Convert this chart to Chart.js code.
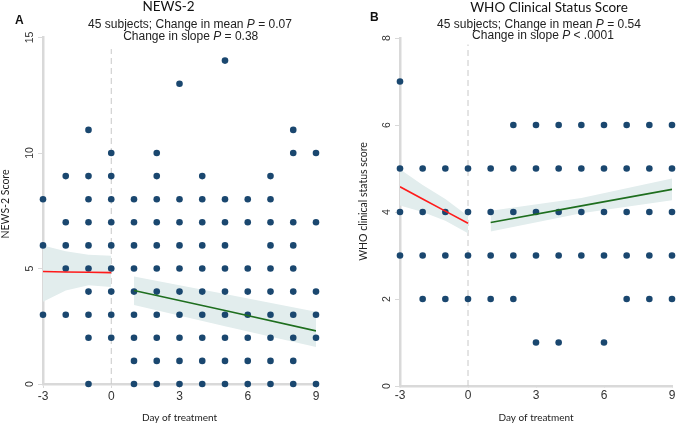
<!DOCTYPE html>
<html>
<head>
<meta charset="utf-8">
<script src="https://cdn.jsdelivr.net/npm/chart.js@4.4.1/dist/chart.umd.min.js"></script>
<style>
  html, body { margin: 0; padding: 0; background: #fff; }
  #wrap { position: relative; width: 676px; height: 424px; }
  .panel { position: absolute; top: 0; width: 338px; height: 424px; }
</style>
</head>
<body>
<div id="wrap">
  <div class="panel" style="left:0"><canvas id="chart-news" width="338" height="424"></canvas></div>
  <div class="panel" style="left:338px"><canvas id="chart-who" width="338" height="424"></canvas></div>
</div>
<script>
// shared axis ticks
const dayTicks = [-3, 0, 3, 6, 9];
const newsTicks = [0, 5, 10, 15];
const whoTicks = [0, 2, 4, 6, 8];

// Panel A - NEWS-2: observed (day, score) pairs, read row by row from the top
const newsDay = [
  5,
  3,
  -1, 8,
  0, 2, 8, 9,
  -2, -1, 0, 2, 4, 7,
  -3, -1, 0, 1, 2, 3, 4, 5, 6, 7,
  -2, -1, 0, 1, 2, 3, 4, 5, 6, 7, 8, 9,
  -3, -2, -1, 0, 1, 2, 3, 4, 5, 7, 8,
  -2, -1, 0, 1, 2, 3, 4, 5, 6, 7, 8,
  -1, 0, 1, 2, 3, 4, 5, 6, 7, 8, 9,
  -3, -2, -1, 0, 1, 2, 3, 4, 5, 6, 7, 8, 9,
  -1, 0, 1, 2, 3, 4, 5, 6, 7, 8, 9,
  1, 2, 3, 4, 5, 6, 7, 8,
  -1, 1, 2, 3, 4, 5, 6, 7, 8, 9
];
const newsScore = [
  14,
  13,
  11, 11,
  10, 10, 10, 10,
  9, 9, 9, 9, 9, 9,
  8, 8, 8, 8, 8, 8, 8, 8, 8, 8,
  7, 7, 7, 7, 7, 7, 7, 7, 7, 7, 7, 7,
  6, 6, 6, 6, 6, 6, 6, 6, 6, 6, 6,
  5, 5, 5, 5, 5, 5, 5, 5, 5, 5, 5,
  4, 4, 4, 4, 4, 4, 4, 4, 4, 4, 4,
  3, 3, 3, 3, 3, 3, 3, 3, 3, 3, 3, 3, 3,
  2, 2, 2, 2, 2, 2, 2, 2, 2, 2, 2,
  1, 1, 1, 1, 1, 1, 1, 1,
  0, 0, 0, 0, 0, 0, 0, 0, 0, 0
];
// fitted lines and 95% bands (pre = before treatment, post = on treatment)
const newsPreX = [-3, -2, -1, 0];
const newsPreFit = [4.87, 4.85, 4.84, 4.82];
const newsPreHi = [6.0, 5.75, 5.6, 5.55];
const newsPreLo = [3.56, 4.05, 4.28, 4.2];
const newsPostX = [1, 5, 9];
const newsPostFit = [4.05, 3.18, 2.3];
const newsPostHi = [4.65, 3.9, 3.13];
const newsPostLo = [3.42, 2.5, 1.6];

// Panel B - WHO clinical status score
const whoDay = [
  -3,
  2, 3, 4, 5, 6, 7, 8, 9,
  -3, -2, -1, 0, 1, 2, 3, 4, 5, 6, 7, 8, 9,
  -3, -2, -1, 0, 1, 2, 3, 4, 5, 6, 7, 8, 9,
  -3, -2, -1, 0, 1, 2, 3, 4, 5, 6, 7, 8, 9,
  -2, -1, 0, 1, 2, 7, 8, 9,
  3, 4, 6
];
const whoScore = [
  7,
  6, 6, 6, 6, 6, 6, 6, 6,
  5, 5, 5, 5, 5, 5, 5, 5, 5, 5, 5, 5, 5,
  4, 4, 4, 4, 4, 4, 4, 4, 4, 4, 4, 4, 4,
  3, 3, 3, 3, 3, 3, 3, 3, 3, 3, 3, 3, 3,
  2, 2, 2, 2, 2, 2, 2, 2,
  1, 1, 1
];
const whoPreX = [-3, -2, -1, 0];
const whoPreFit = [4.58, 4.3, 4.02, 3.74];
const whoPreHi = [4.98, 4.62, 4.3, 3.91];
const whoPreLo = [4.15, 4.0, 3.8, 3.51];
const whoPostX = [1, 5, 9];
const whoPostFit = [3.76, 4.14, 4.52];
const whoPostHi = [4.03, 4.32, 4.77];
const whoPostLo = [3.55, 3.97, 4.27];

const dotColor = '#1a476f';
const bandColor = '#e2eded';
const axisGrey = '#d9d9d9';

const toPoints = (xs, ys) => xs.map((x, i) => ({ x: x, y: ys[i] }));

// titles, P-value lines with italic P, panel letter and rotated y title
const panelText = {
  id: 'panelText',
  afterDraw(chart, args, opts) {
    const ctx = chart.ctx;
    ctx.save();
    ctx.fillStyle = '#111';
    ctx.textBaseline = 'alphabetic';
    ctx.textAlign = 'left';
    ctx.font = 'bold 12px "Liberation Sans", Arial, sans-serif';
    ctx.fillText(opts.letter, opts.letterX, opts.letterY);

    ctx.textAlign = 'center';
    ctx.font = '13.5px Lato, sans-serif';
    ctx.fillText(opts.title, opts.titleX, opts.titleY);

    ctx.fillStyle = '#222';
    ctx.textAlign = 'left';
    opts.lines.forEach(line => {
      const fonts = line.parts.map(p => (p[1] ? 'italic ' : '') + '12px "Liberation Sans", Arial, sans-serif');
      let total = 0;
      line.parts.forEach((p, i) => { ctx.font = fonts[i]; total += ctx.measureText(p[0]).width; });
      let x = line.cx - total / 2;
      line.parts.forEach((p, i) => {
        ctx.font = fonts[i];
        ctx.fillText(p[0], x, line.y);
        x += ctx.measureText(p[0]).width;
      });
    });

    ctx.translate(opts.yTitleX, opts.yTitleY);
    ctx.rotate(-Math.PI / 2);
    ctx.textAlign = 'center';
    ctx.textBaseline = 'middle';
    ctx.font = '10.5px Lato, sans-serif';
    ctx.fillText(opts.yTitle, 0, 0);
    ctx.restore();
  }
};

function buildPanel(canvasId, p) {
  return new Chart(document.getElementById(canvasId).getContext('2d'), {
    type: 'scatter',
    data: {
      datasets: [
        {
          type: 'line',
          data: [{ x: 0, y: 0 }, { x: 0, y: p.dashTop }],
          borderColor: '#c8c8c8',
          borderWidth: 1,
          borderDash: [6, 4],
          pointRadius: 0,
          order: 5,
        },
        { type: 'line', data: toPoints(p.preX, p.preHi), borderColor: 'transparent', borderWidth: 0, pointRadius: 0, fill: false, order: 4 },
        { type: 'line', data: toPoints(p.preX, p.preLo), borderColor: 'transparent', borderWidth: 0, pointRadius: 0, fill: '-1', backgroundColor: bandColor, order: 4 },
        { type: 'line', data: toPoints(p.postX, p.postHi), borderColor: 'transparent', borderWidth: 0, pointRadius: 0, fill: false, order: 4 },
        { type: 'line', data: toPoints(p.postX, p.postLo), borderColor: 'transparent', borderWidth: 0, pointRadius: 0, fill: '-1', backgroundColor: bandColor, order: 4 },
        {
          data: toPoints(p.dayValues, p.scoreValues),
          backgroundColor: dotColor,
          borderWidth: 0,
          pointRadius: 3.3,
          clip: false,
          order: 2,
        },
        { type: 'line', data: toPoints(p.preX, p.preFit), borderColor: '#ff1a1a', borderWidth: 1.6, pointRadius: 0, order: 1 },
        { type: 'line', data: toPoints(p.postX, p.postFit), borderColor: '#1e6e1e', borderWidth: 1.6, pointRadius: 0, order: 1 },
      ],
    },
    options: {
      responsive: false,
      animation: false,
      devicePixelRatio: 1,
      layout: { padding: { left: 0, right: p.padRight, top: p.padTop, bottom: 0 } },
      plugins: {
        legend: { display: false },
        tooltip: { enabled: false },
        panelText: p.text,
      },
      scales: {
        x: {
          type: 'linear',
          min: -3,
          max: 9,
          afterBuildTicks: s => { s.ticks = dayTicks.map(v => ({ value: v })); },
          afterFit: s => { s.height = p.xAxisHeight; },
          grid: { drawOnChartArea: false, tickLength: p.xTickLength, tickColor: axisGrey },
          border: { color: axisGrey, width: 2.5 },
          ticks: { padding: p.xTickPadding, color: '#333', font: { family: '"Liberation Sans", Arial, sans-serif', size: 12 } },
          title: {
            display: true,
            text: 'Day of treatment',
            color: '#222',
            padding: 0,
            font: { family: 'Lato, sans-serif', size: 10 },
          },
        },
        y: {
          min: 0,
          max: p.yMax,
          afterBuildTicks: s => { s.ticks = p.yTicks.map(v => ({ value: v })); },
          afterFit: s => { s.width = p.yAxisWidth; },
          grid: { drawOnChartArea: false, tickLength: 5, tickColor: axisGrey },
          border: { color: axisGrey, width: 2.5 },
          ticks: {
            minRotation: 90,
            maxRotation: 90,
            crossAlign: 'center',
            padding: p.yTickPadding,
            color: '#333',
            font: { family: '"Liberation Sans", Arial, sans-serif', size: 10.5 },
          },
        },
      },
    },
    plugins: [panelText],
  });
}

buildPanel('chart-news', {
  dayValues: newsDay, scoreValues: newsScore,
  preX: newsPreX, preFit: newsPreFit, preHi: newsPreHi, preLo: newsPreLo,
  postX: newsPostX, postFit: newsPostFit, postHi: newsPostHi, postLo: newsPostLo,
  yMax: 15, yTicks: newsTicks, dashTop: 14.5,
  padRight: 22, padTop: 37.5, yAxisWidth: 43, xAxisHeight: 40,
  xTickLength: 4, xTickPadding: 1, yTickPadding: 2,
  text: {
    letter: 'A', letterX: 15, letterY: 23.5,
    title: 'NEWS-2', titleX: 168.5, titleY: 11,
    lines: [
      { cx: 190, y: 28.3, parts: [['45 subjects; Change in mean ', false], ['P', true], [' = 0.07', false]] },
      { cx: 190.7, y: 40, parts: [['Change in slope ', false], ['P', true], [' = 0.38', false]] },
    ],
    yTitle: 'NEWS-2 Score', yTitleX: 6, yTitleY: 204,
  },
});

buildPanel('chart-who', {
  dayValues: whoDay, scoreValues: whoScore,
  preX: whoPreX, preFit: whoPreFit, preHi: whoPreHi, preLo: whoPreLo,
  postX: whoPostX, postFit: whoPostFit, postHi: whoPostHi, postLo: whoPostLo,
  yMax: 8, yTicks: whoTicks, dashTop: 7.85,
  padRight: 4, padTop: 38, yAxisWidth: 62, xAxisHeight: 38,
  xTickLength: 2, xTickPadding: 0, yTickPadding: 5,
  text: {
    letter: 'B', letterX: 32, letterY: 20.7,
    title: 'WHO Clinical Status Score', titleX: 211, titleY: 11.7,
    lines: [
      { cx: 201, y: 28.3, parts: [['45 subjects; Change in mean ', false], ['P', true], [' = 0.54', false]] },
      { cx: 205, y: 39.3, parts: [['Change in slope ', false], ['P', true], [' < .0001', false]] },
    ],
    yTitle: 'WHO clinical status score', yTitleX: 26, yTitleY: 201.5,
  },
});
</script>
</body>
</html>
